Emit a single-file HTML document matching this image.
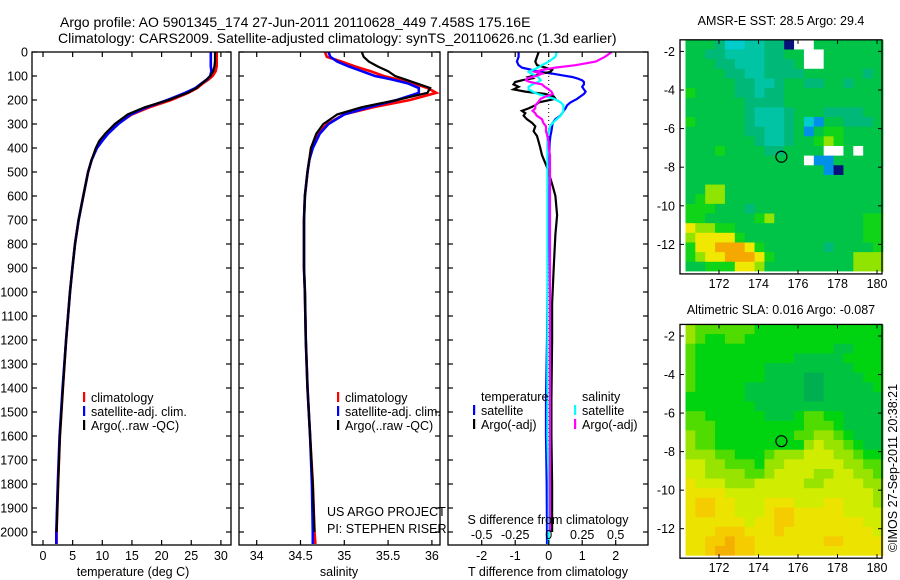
<!DOCTYPE html>
<html><head><meta charset="utf-8">
<style>
html,body{margin:0;padding:0;background:#fff;}
svg{display:block;font-family:"Liberation Sans",sans-serif;}
text{font-size:12.5px;fill:#000;}
</style></head>
<body>
<svg id="chart" width="900" height="580" viewBox="0 0 900 580" xmlns="http://www.w3.org/2000/svg">
<text x="60" y="27" style="font-size:14px">Argo profile: AO 5901345_174 27-Jun-2011 20110628_449 7.458S 175.16E</text>
<text x="58" y="43" style="font-size:14px">Climatology: CARS2009. Satellite-adjusted climatology: synTS_20110626.nc (1.3d earlier)</text>
<g id="g1"></g>
<g id="g2"></g>
<g id="g3"></g>
<g id="g4"></g>
<g id="g5"></g>
<text transform="translate(897,468) rotate(-90)" text-anchor="middle">©IMOS 27-Sep-2011 20:38:21</text>
</svg>
<script>
// ---- profile data ----
const depths = [0,20,40,60,80,100,115,130,150,170,200,230,260,300,340,370,400,450,500,600,700,800,900,1000,1200,1400,1600,1800,2000,2050];
const tempClim = [29.3,29.3,29.3,29.3,29.1,28.6,27.9,27.0,26.0,24.5,21.6,18.0,15.0,12.6,10.8,9.8,9.0,8.2,7.6,6.8,6.0,5.4,4.95,4.55,3.9,3.35,2.85,2.55,2.3,2.3];
const tempSat = [28.3,28.3,28.3,28.3,28.4,28.2,27.6,26.8,25.7,24.0,21.0,17.5,14.8,12.7,11.0,10.0,9.1,8.2,7.6,6.8,6.0,5.4,4.95,4.55,3.9,3.3,2.8,2.5,2.25,2.25];
const tempArgo = [29.0,29.0,29.0,28.9,28.7,28.2,27.6,26.8,25.9,24.4,21.2,17.2,14.3,12.1,10.5,9.5,8.9,8.2,7.6,6.8,6.0,5.4,4.95,4.55,3.9,3.35,2.85,2.55,2.3];
const salClim = [34.78,34.8,34.97,35.12,35.3,35.45,35.62,35.78,35.95,36.05,35.75,35.33,35.0,34.8,34.7,34.66,34.62,34.6,34.58,34.55,34.54,34.54,34.54,34.55,34.56,34.58,34.61,34.64,34.66,34.67];
const salSat = [34.82,34.84,34.92,35.05,35.2,35.35,35.55,35.72,35.85,35.85,35.6,35.28,35.0,34.82,34.72,34.68,34.64,34.6,34.58,34.55,34.54,34.54,34.54,34.55,34.56,34.58,34.61,34.63,34.64,34.64];
const salArgo = [35.2,35.22,35.28,35.38,35.5,35.58,35.7,35.82,35.98,35.95,35.6,35.2,34.92,34.76,34.68,34.65,34.62,34.6,34.58,34.55,34.54,34.54,34.54,34.55,34.56,34.58,34.61,34.64,34.66];
const diffDepths = [0,20,40,55,65,75,83,90,97,104,110,118,125,135,145,156,165,175,185,195,210,222,235,245,255,265,280,295,310,330,350,375,400,430,480,550,600,680,760,900,1050,1200,1450,1600,1800,2000,2050];
const tDiffSat = [-0.9,-0.9,-0.95,-0.9,-0.8,-0.5,-0.25,0.1,0.4,0.7,0.85,1.0,1.05,1.05,1.0,1.05,1.1,1.05,0.95,0.85,0.65,0.55,0.5,0.45,0.4,0.35,0.2,0.12,0.1,0.08,0.05,0.03,0.02,0.02,0.03,0.03,0.02,0.0,-0.02,-0.03,-0.04,-0.05,-0.08,-0.08,-0.06,-0.05,-0.05];
const tDiffArgo = [-0.3,-0.35,-0.4,-0.35,-0.1,0.1,0.05,-0.2,-0.4,-0.6,-0.5,-0.8,-1.0,-1.05,-0.9,-1.05,-0.7,-0.1,0.15,0.2,-0.3,-0.4,-0.6,-0.8,-0.7,-0.75,-0.65,-0.5,-0.4,-0.45,-0.35,-0.3,-0.25,-0.2,-0.05,0.1,0.2,0.25,0.2,0.15,0.1,0.1,0.08,0.08,0.1,0.1];
const sDiffSat = [0.06,0.05,0.0,-0.05,-0.08,-0.12,-0.15,-0.13,-0.1,-0.08,-0.07,-0.06,-0.08,-0.12,-0.15,-0.15,-0.12,-0.08,-0.02,0.04,0.09,0.11,0.11,0.11,0.1,0.09,0.06,0.03,0.01,0.0,-0.01,-0.01,-0.01,-0.01,-0.01,-0.01,-0.01,-0.01,-0.01,-0.01,-0.01,-0.01,-0.01,-0.01,0.0,0.0,0.0];
const sDiffArgo = [0.47,0.42,0.35,0.2,0.05,-0.05,-0.1,-0.05,-0.08,-0.12,-0.16,-0.17,-0.14,-0.05,-0.03,0.0,0.02,0.03,-0.02,-0.06,-0.08,-0.1,-0.1,-0.12,-0.1,-0.09,-0.05,-0.04,-0.02,-0.02,-0.01,0.0,0.0,0.01,0.01,0.01,0.01,0.01,0.01,0.01,0.01,0.01,0.01,0.01,0.01,0.01];
const depthTicks = [0,100,200,300,400,500,600,700,800,900,1000,1100,1200,1300,1400,1500,1600,1700,1800,1900,2000];
const tempTicks = [0,5,10,15,20,25,30];
const salTicks = [34,34.5,35,35.5,36];
const tDiffTicks = [-2,-1,0,1,2];
const sDiffTicks = [-0.5,-0.25,0,0.25,0.5];
// ---- map data (0.5 deg cells, lon 170.3..180.3, lat -1.4..-13.4) ----
const sstTitle = "AMSR-E SST: 28.5 Argo: 29.4";
const slaTitle = "Altimetric SLA: 0.016 Argo: -0.087";
const sstRows = [
"55542233440ww5555555",
"554433334455ww555555",
"555443334445ww555555",
"55554433444455555545",
"55555443345544554555",
"65555443445555555555",
"55555544445555555555",
"55555543334555444455",
"65555543334521554445",
"55555544334515665555",
"55555554334556765555",
"55565555445555ww5w55",
"555555555555w1155555",
"55555555555555105555",
"55555555555555555555",
"55775555555555555555",
"56775555555555555555",
"66655545555555555555",
"66555556755555555566",
"87766555555555555566",
"78888655555555555566",
"68899986555555455556",
"67889998655555555777",
"55666887555555555777"];
const slaRows = [
"43333332222222222222",
"43223322222222222222",
"32222222222222211222",
"32222222222111112222",
"32222222111111111222",
"32222222111100111122",
"32222211111100111112",
"22222211111100111111",
"22222221111111111111",
"33222222111233221111",
"33322222222233321111",
"43322222222334432111",
"43322222222245443211",
"44433222344455544322",
"55443332445555554433",
"55444433455554455443",
"65554445555544555544",
"66665555555555555554",
"67766555666555665554",
"67766555677666665555",
"66666656677666666655",
"66677766676666666665",
"66778776666666776666",
"66788776666666666666"];
const lonTicks = [172,174,176,178,180];
const latTicks = [-2,-4,-6,-8,-10,-12];
const argoLon = 175.16, argoLat = -7.458;

const NS="http://www.w3.org/2000/svg";
function mk(parent,tag,attrs){const e=document.createElementNS(NS,tag);for(const k in attrs)e.setAttribute(k,attrs[k]);parent.appendChild(e);return e;}
function txt(parent,x,y,s,anchor,size){const t=mk(parent,'text',{x:x,y:y,'text-anchor':anchor||'start'});if(size)t.style.fontSize=size+'px';t.textContent=s;return t;}

const TOP=52, BOT=545, DSC=0.24;
const yD = d => TOP + d*DSC;

function frame(g,x0,x1,y0,y1){
  const r=mk(g,'rect',{x:x0,y:y0,width:x1-x0,height:y1-y0,fill:'none',stroke:'#000','stroke-width':1.3});
  
  
}
function depthAxis(g,x0,x1,labels){
  depthTicks.forEach(d=>{
    const y=yD(d);
    const a=mk(g,'line',{x1:x0,x2:x0+5,y1:y,y2:y,stroke:'#000','stroke-width':1.2});
    
    
    mk(g,'line',{x1:x1-5,x2:x1,y1:y,y2:y,stroke:'#000','stroke-width':1.2});
    if(labels){const t=txt(g,x0-4,y+4.5,String(d),'end');
      
      }
  });
}
function xTicks(g,ticks,fx,labelY,top,bottom){
  ticks.forEach(v=>{
    const x=fx(v);
    if(bottom){mk(g,'line',{x1:x,x2:x,y1:BOT-5,y2:BOT,stroke:'#000','stroke-width':1.2});}
    if(top){mk(g,'line',{x1:x,x2:x,y1:TOP,y2:TOP+5,stroke:'#000','stroke-width':1.2});}
    if(labelY){const t=txt(g,x,labelY,String(v),'middle');
      
      }
  });
}
function profile(g,vals,dep,fx,color,name,w){
  const pts=[];
  for(let i=0;i<vals.length&&i<dep.length;i++){if(vals[i]==null)continue;pts.push(fx(vals[i]).toFixed(1)+','+yD(dep[i]).toFixed(1));}
  const p=mk(g,'polyline',{points:pts.join(' '),fill:'none',stroke:color,'stroke-width':w||2.6,'stroke-linejoin':'miter'});
  
  
}
function legendItem(g,x,y,color,label,name){
  if(color){mk(g,'rect',{x:x-8,y:y-10,width:2.2,height:10,fill:color});}
  const t=txt(g,x,y,label);
  
  
}

// ---- Panel 1: temperature ----
(function(){
  const g=document.getElementById('g1');
  const X0=32,X1=231;
  const fx=v=>43+v*5.93;
  profile(g,tempClim,depths,fx,'#ff0000','climatology-line');
  profile(g,tempSat,depths,fx,'#0000ff','satellite-line');
  profile(g,tempArgo,depths,fx,'#000000','argo-line',2.2);
  frame(g,X0,X1,TOP,BOT);
  depthAxis(g,X0,X1,true);
  xTicks(g,tempTicks,fx,560,true,true);
  const t=txt(g,133,576,'temperature (deg C)','middle');
  
  
  legendItem(g,91,402,'#ff0000','climatology','legend-climatology');
  legendItem(g,91,416,'#0000ff','satellite-adj. clim.','legend-satellite');
  legendItem(g,91,430,'#000000','Argo(..raw -QC)','legend-argo');
})();

// ---- Panel 2: salinity ----
(function(){
  const g=document.getElementById('g2');
  const X0=239,X1=440;
  const fx=v=>256.7+(v-34)*87.6;
  profile(g,salClim,depths,fx,'#ff0000','climatology-line');
  profile(g,salSat,depths,fx,'#0000ff','satellite-line');
  profile(g,salArgo,depths,fx,'#000000','argo-line',2.2);
  frame(g,X0,X1,TOP,BOT);
  depthAxis(g,X0,X1,false);
  xTicks(g,salTicks,fx,560,true,true);
  const t=txt(g,339,576,'salinity','middle');
  
  
  legendItem(g,345,402,'#ff0000','climatology','legend-climatology');
  legendItem(g,345,416,'#0000ff','satellite-adj. clim.','legend-satellite');
  legendItem(g,345,430,'#000000','Argo(..raw -QC)','legend-argo');
  const a=txt(g,327,516,'US ARGO PROJECT');
  
  
  const b=txt(g,327,533,'PI: STEPHEN RISER');
  
  
})();

// ---- Panel 3: differences ----
(function(){
  const g=document.getElementById('g3');
  const X0=448,X1=648, X0v=548.7;
  const fT=v=>X0v+v*33.5;
  const fS=v=>X0v+v*134;
  const dz=mk(g,'line',{x1:X0v,x2:X0v,y1:TOP,y2:BOT,stroke:'#000','stroke-width':1,'stroke-dasharray':'1,3'});
  
  
  profile(g,tDiffSat,diffDepths,fT,'#0000ff','t-diff-satellite-line',2.2);
  profile(g,tDiffArgo,diffDepths,fT,'#000000','t-diff-argo-line',2.2);
  profile(g,sDiffSat,diffDepths,fS,'#00ffff','s-diff-satellite-line',2.2);
  profile(g,sDiffArgo,diffDepths,fS,'#ff00ff','s-diff-argo-line',2.2);
  frame(g,X0,X1,TOP,BOT);
  depthAxis(g,X0,X1,false);
  xTicks(g,tDiffTicks,fT,560,false,true);
  xTicks(g,sDiffTicks,fS,null,true,false);
  sDiffTicks.forEach(v=>{const t=txt(g,fS(v),539,String(v),'middle');
    
    });
  const s=txt(g,548,524,'S difference from climatology','middle');
  
  
  const t=txt(g,548,576,'T difference from climatology','middle');
  
  
  legendItem(g,481,401,null,'temperature','legend-temperature-header');
  legendItem(g,481,415,'#0000ff','satellite','legend-t-satellite');
  legendItem(g,481,429,'#000000','Argo(-adj)','legend-t-argo');
  legendItem(g,582,401,null,'salinity','legend-salinity-header');
  legendItem(g,582,415,'#00ffff','satellite','legend-s-satellite');
  legendItem(g,582,429,'#ff00ff','Argo(-adj)','legend-s-argo');
})();

// ---- Maps ----
const sstColors={'0':'#08107a','1':'#0090e8','2':'#00cccc','3':'#00c4a4','4':'#00b878','5':'#00c448','6':'#10d418','7':'#90e400','8':'#f0e800','9':'#f4a800','w':'#ffffff'};
const slaColors={'0':'#00b050','1':'#00c440','2':'#00d410','3':'#50dc00','4':'#98e400','5':'#d0ec00','6':'#ece400','7':'#f4cc00','8':'#f4b000'};
function drawMap(gid,rows,colors,fy0,latPx,title,titleY){
  const g=document.getElementById(gid);
  const FX0=680,FX1=882;
  const lonPx=19.75;
  const fx=lon=>719+(lon-172)*lonPx;
  const fy=lat=>fy0+(-2-lat)*latPx;
  const top=fy(-1.4), bottom=fy(-13.4);
  rows.forEach((row,j)=>{
    for(let i=0;i<row.length;i++){
      const lon=170.3+0.5*i, lat=-1.4-0.5*j;
      const x=fx(lon), y=fy(lat);
      const c=mk(g,'rect',{x:x.toFixed(2),y:y.toFixed(2),width:(0.5*lonPx+0.5).toFixed(2),height:(0.5*latPx+0.5).toFixed(2),fill:colors[row[i]]||'#00c448'});
      
      
    }
  });
  mk(g,'rect',{x:fx(180.3),y:top-2,width:FX1-fx(180.3),height:bottom-top+6,fill:'#fff'});
  mk(g,'rect',{x:FX0,y:bottom,width:FX1-FX0,height:3,fill:'#fff'});
  mk(g,'rect',{x:FX0,y:top-2,width:fx(170.3)-FX0,height:bottom-top+6,fill:'#fff'});
  const fTop=top, fBot=bottom+2.5;
  const fr=mk(g,'rect',{x:FX0,y:fTop,width:FX1-FX0,height:fBot-fTop,fill:'none',stroke:'#000','stroke-width':1.3});
  
  
  lonTicks.forEach(l=>{const x=fx(l);
    mk(g,'line',{x1:x,x2:x,y1:fBot-4,y2:fBot,stroke:'#000'});
    mk(g,'line',{x1:x,x2:x,y1:fTop,y2:fTop+4,stroke:'#000'});
    const t=txt(g,x,fBot+14,String(l),'middle');
    
    });
  latTicks.forEach(l=>{const y=fy(l);
    mk(g,'line',{x1:FX0,x2:FX0+4,y1:y,y2:y,stroke:'#000'});
    mk(g,'line',{x1:FX1-4,x2:FX1,y1:y,y2:y,stroke:'#000'});
    const t=txt(g,FX0-5,y+4.5,String(l),'end');
    
    });
  const c=mk(g,'circle',{cx:fx(argoLon),cy:fy(argoLat),r:5.5,fill:'none',stroke:'#000','stroke-width':1.2});
  
  
  const tt=txt(g,781,titleY,title,'middle');
  
  
}
drawMap('g4',sstRows,sstColors,51.4,19.3,sstTitle,25);
drawMap('g5',slaRows,slaColors,336,19.27,slaTitle,314);
</script>
</body></html>
